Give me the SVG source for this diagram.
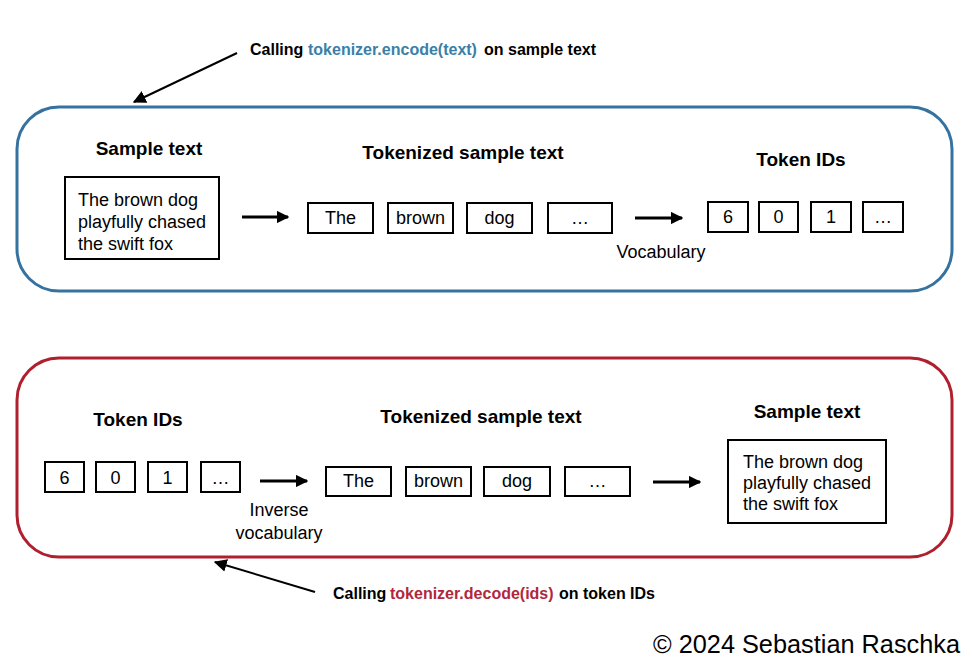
<svg xmlns="http://www.w3.org/2000/svg" width="972" height="669" viewBox="0 0 972 669">
<defs>
<marker id="ah" viewBox="0 0 10 10" refX="9" refY="5" markerWidth="4.2" markerHeight="4.2" orient="auto" markerUnits="strokeWidth">
<path d="M0,0 L10,5 L0,10 z" fill="#000"/>
</marker>
<marker id="ah2" viewBox="0 0 10 10" refX="9" refY="5" markerWidth="6.5" markerHeight="6.5" orient="auto" markerUnits="strokeWidth">
<path d="M0,0 L10,5 L0,10 z" fill="#000"/>
</marker>
</defs>
<style>
.t{font-family:"Liberation Sans",Arial,sans-serif;font-size:18px;fill:#000}
.b{font-family:"Liberation Sans",Arial,sans-serif;font-size:19px;font-weight:bold;fill:#000}
.a{font-family:"Liberation Sans",Arial,sans-serif;font-size:16px;font-weight:bold;fill:#000}
.enc{fill:#3a7fa8}
.dec{fill:#b0283a}
.box{fill:#fff;stroke:#000;stroke-width:2}
.arr{stroke:#000;stroke-width:3;fill:none;marker-end:url(#ah)}
.ann{stroke:#000;stroke-width:2;fill:none;marker-end:url(#ah2)}
</style>
<rect width="972" height="669" fill="#fff"/>

<g id="encode-panel">
<rect x="17" y="107" width="935" height="184" rx="42" ry="42" fill="#fff" stroke="#3672a0" stroke-width="3"/>
</g>
<g id="decode-panel">
<rect x="17" y="358" width="935" height="199" rx="42" ry="42" fill="#fff" stroke="#b01f2e" stroke-width="3"/>
</g>

<g id="enc-sample">
<text class="b" x="149" y="155" text-anchor="middle">Sample text</text>
<rect class="box" x="65" y="177" width="154" height="82"/>
<text class="t" x="78" y="206">The brown dog</text>
<text class="t" x="78" y="228">playfully chased</text>
<text class="t" x="78" y="250">the swift fox</text>
</g>
<g id="enc-tokens">
<text class="b" x="463" y="159" text-anchor="middle">Tokenized sample text</text>
<rect class="box" x="308" y="203" width="65" height="30"/>
<text class="t" x="340.5" y="224" text-anchor="middle">The</text>
<rect class="box" x="388" y="203" width="65" height="30"/>
<text class="t" x="420.5" y="224" text-anchor="middle">brown</text>
<rect class="box" x="467" y="203" width="65" height="30"/>
<text class="t" x="499.5" y="224" text-anchor="middle">dog</text>
<rect class="box" x="548" y="203" width="64" height="30"/>
<text class="t" x="580" y="224" text-anchor="middle">…</text>
</g>
<g id="enc-vocab">
<text class="t" x="661" y="258" text-anchor="middle">Vocabulary</text>
</g>
<g id="enc-ids">
<text class="b" x="801" y="166" text-anchor="middle">Token IDs</text>
<rect class="box" x="708" y="202" width="40" height="30"/>
<text class="t" x="728" y="223" text-anchor="middle">6</text>
<rect class="box" x="759" y="202" width="39" height="30"/>
<text class="t" x="778.5" y="223" text-anchor="middle">0</text>
<rect class="box" x="811" y="202" width="40" height="30"/>
<text class="t" x="831" y="223" text-anchor="middle">1</text>
<rect class="box" x="863" y="202" width="40" height="30"/>
<text class="t" x="883" y="223" text-anchor="middle">…</text>
</g>

<g id="dec-ids">
<text class="b" x="138" y="426" text-anchor="middle">Token IDs</text>
<rect class="box" x="45" y="462" width="39" height="30"/>
<text class="t" x="64.5" y="484" text-anchor="middle">6</text>
<rect class="box" x="96" y="462" width="39" height="30"/>
<text class="t" x="115.5" y="484" text-anchor="middle">0</text>
<rect class="box" x="148" y="462" width="39" height="30"/>
<text class="t" x="167.5" y="484" text-anchor="middle">1</text>
<rect class="box" x="201" y="462" width="39" height="30"/>
<text class="t" x="220.5" y="484" text-anchor="middle">…</text>
</g>
<g id="dec-vocab">
<text class="t" x="279" y="516" text-anchor="middle">Inverse</text>
<text class="t" x="279" y="539" text-anchor="middle">vocabulary</text>
</g>
<g id="dec-tokens">
<text class="b" x="481" y="423" text-anchor="middle">Tokenized sample text</text>
<rect class="box" x="326" y="467" width="65" height="29"/>
<text class="t" x="358.5" y="487" text-anchor="middle">The</text>
<rect class="box" x="406" y="467" width="65" height="29"/>
<text class="t" x="438.5" y="487" text-anchor="middle">brown</text>
<rect class="box" x="484" y="467" width="66" height="29"/>
<text class="t" x="517" y="487" text-anchor="middle">dog</text>
<rect class="box" x="565" y="467" width="65" height="29"/>
<text class="t" x="597.5" y="487" text-anchor="middle">…</text>
</g>
<g id="dec-sample">
<text class="b" x="807" y="418" text-anchor="middle">Sample text</text>
<rect class="box" x="728" y="440" width="158" height="83"/>
<text class="t" x="743" y="468">The brown dog</text>
<text class="t" x="743" y="489">playfully chased</text>
<text class="t" x="743" y="510">the swift fox</text>
</g>

<g id="annotations">
<text class="a" x="250" y="55">Calling</text>
<text class="a enc" x="308" y="55">tokenizer.encode(text)</text>
<text class="a" x="484" y="55">on sample text</text>
<text class="a" x="333" y="599">Calling</text>
<text class="a dec" x="390" y="599">tokenizer.decode(ids)</text>
<text class="a" x="559" y="599">on token IDs</text>
<text x="653" y="653" font-family="'Liberation Sans',Arial,sans-serif" font-size="25" textLength="307" lengthAdjust="spacingAndGlyphs" fill="#000">© 2024 Sebastian Raschka</text>
</g>

<g id="connectors">
<line class="arr" x1="242" y1="217" x2="288" y2="217"/>
<line class="arr" x1="635" y1="218" x2="682" y2="218"/>
<line class="arr" x1="260" y1="481" x2="307" y2="481"/>
<line class="arr" x1="653" y1="482" x2="700" y2="482"/>
<line class="ann" x1="237" y1="53" x2="134" y2="102"/>
<line class="ann" x1="315" y1="592" x2="215" y2="562"/>
</g>
</svg>
